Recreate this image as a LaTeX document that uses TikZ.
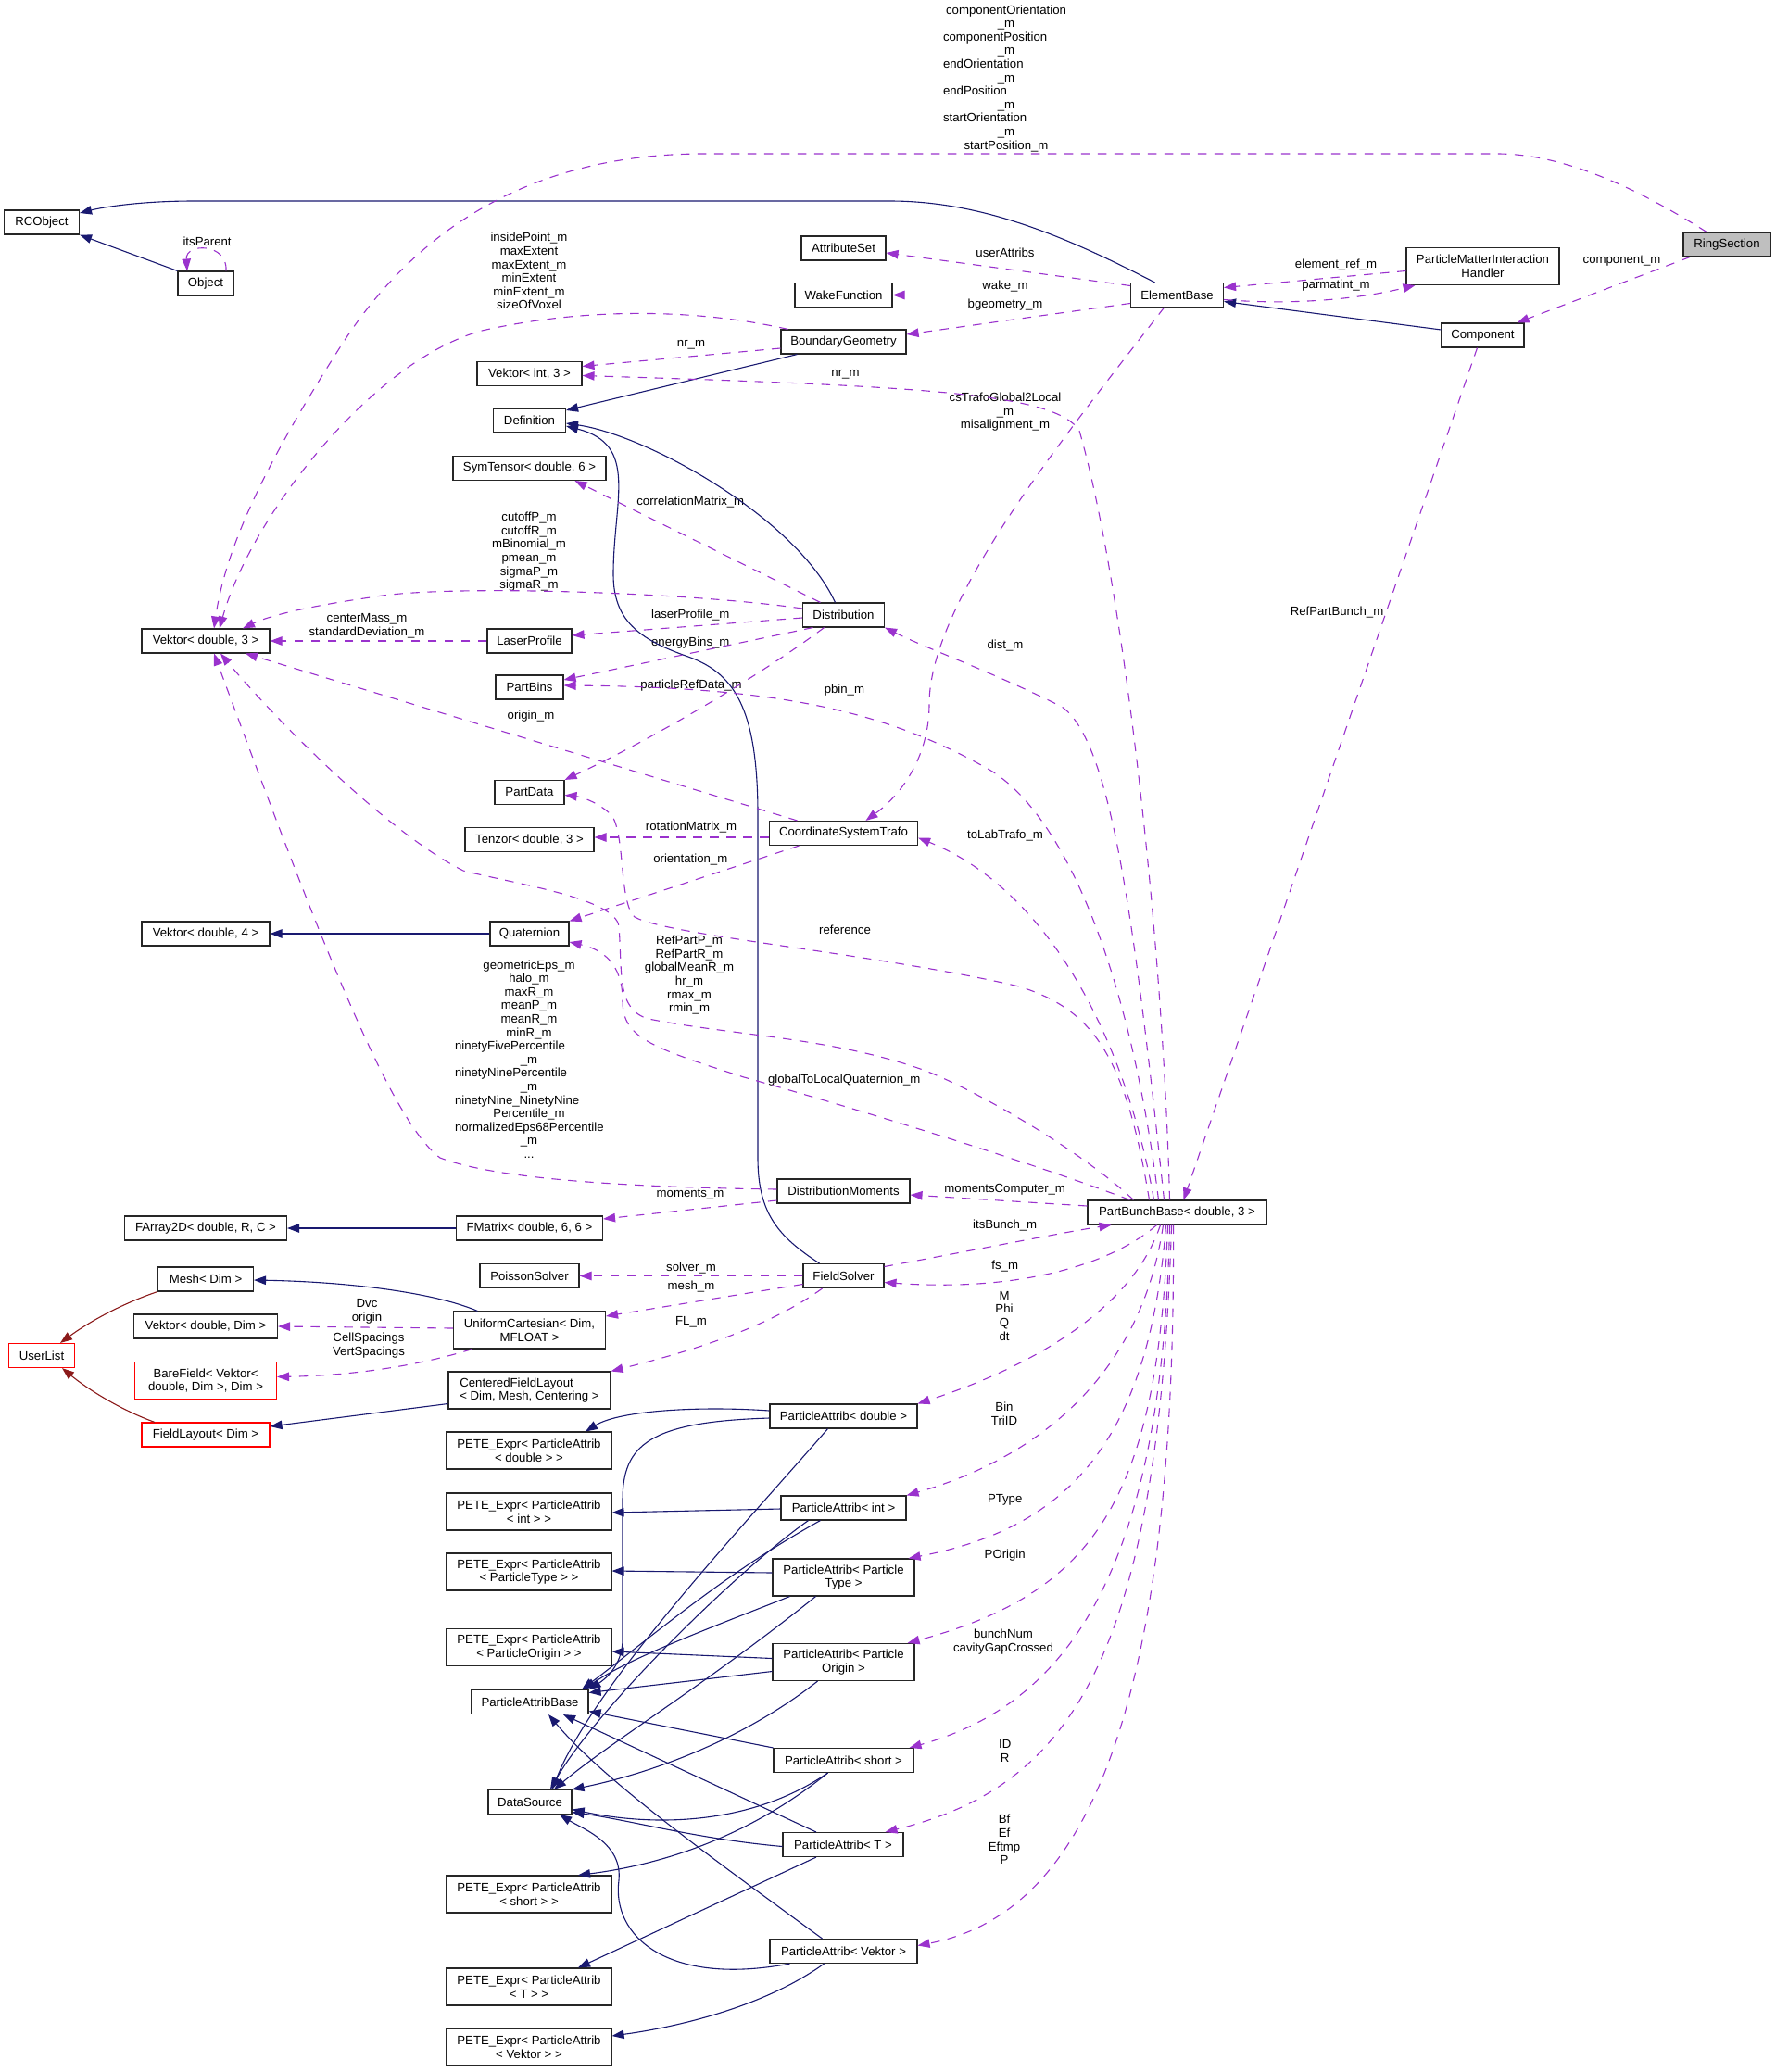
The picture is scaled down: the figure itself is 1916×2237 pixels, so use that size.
\documentclass[tikz,border=0pt]{standalone}
\usepackage{fontspec}
\setmainfont{Liberation Sans}
\usetikzlibrary{arrows.meta}

\definecolor{edgeNavy}{HTML}{191970}
\definecolor{edgeOrchid}{HTML}{9A32CD}
\definecolor{edgeFire}{HTML}{8B1A1A}
\definecolor{ringGray}{HTML}{BFBFBF}

\tikzset{
  classbox/.style={draw=black!85, line width=1.1pt, fill=white, inner sep=0pt, minimum height=26pt, align=center},
  classred/.style={classbox, draw=red},
  edgelabel/.style={inner sep=0pt, align=center},
  inherit/.style={draw=edgeNavy, line width=1.1pt, -{Triangle[length=13pt,width=9.5pt]}},
  tmpl/.style={draw=edgeFire, line width=1.1pt, -{Triangle[length=13pt,width=9.5pt]}},
  member/.style={draw=edgeOrchid, line width=1.1pt, dash pattern=on 9.5pt off 8.5pt, -{Triangle[length=13pt,width=9.5pt]}},
}

\begin{document}
\begin{tikzpicture}[x=1pt, y=-1pt, font=\fontsize{13.2}{14.6}\selectfont]

  \useasboundingbox (0,0) rectangle (1916,2237);

  % columns of the graph (ranks)
  \def\xA{45}
  \def\xB{222}
  \def\xC{571.5}
  \def\xD{910.5}
  \def\xE{1270.5}
  \def\xF{1600.5}
  \def\xG{1864}

  % Classes
  \node[classbox, minimum width=94pt, fill=ringGray] (RingSection) at (\xG,264) {RingSection};
  \node[classbox, minimum width=81pt] (RCObject) at (\xA,240) {RCObject};
  \node[classbox, minimum width=60pt] (Object) at (\xB,306) {Object};
  \node[classbox, minimum width=91pt] (AttributeSet) at (\xD,268) {AttributeSet};
  \node[classbox, minimum width=105pt] (WakeFunction) at (\xD,318.5) {WakeFunction};
  \node[classbox, minimum width=165pt, minimum height=40pt] (PMIHandler) at (\xF,287.5) {ParticleMatterInteraction\\Handler};
  \node[classbox, minimum width=100pt] (ElementBase) at (\xE,318.5) {ElementBase};
  \node[classbox, minimum width=89pt] (Component) at (\xF,362) {Component};
  \node[classbox, minimum width=135pt] (BoundaryGeometry) at (\xD,369) {BoundaryGeometry};
  \node[classbox, minimum width=113pt] (VektorIntThree) at (\xC,403.5) {Vektor< int, 3 >};
  \node[classbox, minimum width=78pt] (Definition) at (\xC,454) {Definition};
  \node[classbox, minimum width=165pt] (SymTensor) at (\xC,505.5) {SymTensor< double, 6 >};
  \node[classbox, minimum width=138pt] (VektorThree) at (\xB,692) {Vektor< double, 3 >};
  \node[classbox, minimum width=91pt] (LaserProfile) at (\xC,692) {LaserProfile};
  \node[classbox, minimum width=88pt] (Distribution) at (\xD,664) {Distribution};
  \node[classbox, minimum width=73pt] (PartBins) at (\xC,742) {PartBins};
  \node[classbox, minimum width=75pt] (PartData) at (\xC,855.5) {PartData};
  \node[classbox, minimum width=139pt] (Tenzor) at (\xC,906.5) {Tenzor< double, 3 >};
  \node[classbox, minimum width=160pt] (CSTrafo) at (\xD,899.5) {CoordinateSystemTrafo};
  \node[classbox, minimum width=138pt] (VektorFour) at (\xB,1008) {Vektor< double, 4 >};
  \node[classbox, minimum width=85pt] (Quaternion) at (\xC,1008) {Quaternion};
  \node[classbox, minimum width=143pt] (DistMoments) at (\xD,1286) {DistributionMoments};
  \node[classbox, minimum width=193pt] (PartBunch) at (\xE,1309) {PartBunchBase< double, 3 >};
  \node[classbox, minimum width=175pt] (FArray) at (\xB,1326) {FArray2D< double, R, C >};
  \node[classbox, minimum width=158pt] (FMatrix) at (\xC,1326) {FMatrix< double, 6, 6 >};
  \node[classbox, minimum width=103pt] (Mesh) at (\xB,1381) {Mesh< Dim >};
  \node[classbox, minimum width=107pt] (PoissonSolver) at (\xC,1377.5) {PoissonSolver};
  \node[classbox, minimum width=87pt] (FieldSolver) at (\xD,1377.5) {FieldSolver};
  \node[classbox, minimum width=155pt] (VektorDim) at (\xB,1432) {Vektor< double, Dim >};
  \node[classbox, minimum width=164pt, minimum height=40pt] (UniCart) at (\xC,1436) {UniformCartesian< Dim,\\MFLOAT >};
  \node[classred, minimum width=71pt] (UserList) at (\xA,1463.5) {UserList};
  \node[classred, minimum width=153pt, minimum height=40pt] (BareField) at (\xB,1490.5) {BareField< Vektor<\\double, Dim >, Dim >};
  \node[classbox, minimum width=175pt, minimum height=40pt, align=left] (CenteredFL) at (\xC,1501) {CenteredFieldLayout\\< Dim, Mesh, Centering >};
  \node[classred, minimum width=138pt] (FieldLayout) at (\xB,1549) {FieldLayout< Dim >};

  % ParticleAttrib family
  \node[classbox, minimum width=159pt] (PADouble) at (\xD,1529) {ParticleAttrib< double >};
  \node[classbox, minimum width=178pt, minimum height=40pt] (PETEDouble) at (571,1566) {PETE\_Expr< ParticleAttrib\\< double > >};
  \node[classbox, minimum width=135pt] (PAInt) at (\xD,1628) {ParticleAttrib< int >};
  \node[classbox, minimum width=178pt, minimum height=40pt] (PETEInt) at (571,1632) {PETE\_Expr< ParticleAttrib\\< int > >};
  \node[classbox, minimum width=153pt, minimum height=40pt] (PAType) at (\xD,1703) {ParticleAttrib< Particle\\Type >};
  \node[classbox, minimum width=178pt, minimum height=40pt] (PETEType) at (571,1697) {PETE\_Expr< ParticleAttrib\\< ParticleType > >};
  \node[classbox, minimum width=178pt, minimum height=40pt] (PETEOrigin) at (571,1778.5) {PETE\_Expr< ParticleAttrib\\< ParticleOrigin > >};
  \node[classbox, minimum width=153pt, minimum height=40pt] (PAOrigin) at (\xD,1794.5) {ParticleAttrib< Particle\\Origin >};
  \node[classbox, minimum width=126pt] (PABase) at (572,1837.5) {ParticleAttribBase};
  \node[classbox, minimum width=151pt] (PAShort) at (\xD,1900.5) {ParticleAttrib< short >};
  \node[classbox, minimum width=90pt] (DataSource) at (572,1945.5) {DataSource};
  \node[classbox, minimum width=130pt] (PAT) at (910,1991.5) {ParticleAttrib< T >};
  \node[classbox, minimum width=178pt, minimum height=40pt] (PETEShort) at (571,2045) {PETE\_Expr< ParticleAttrib\\< short > >};
  \node[classbox, minimum width=159pt] (PAVektor) at (\xD,2106.5) {ParticleAttrib< Vektor >};
  \node[classbox, minimum width=178pt, minimum height=40pt] (PETET) at (571,2145) {PETE\_Expr< ParticleAttrib\\< T > >};
  \node[classbox, minimum width=178pt, minimum height=40pt] (PETEVektor) at (571,2210) {PETE\_Expr< ParticleAttrib\\< Vektor > >};

  % Member labels
  \node[edgelabel] (lblItsParent) at (223.6,260.6) {itsParent};
  \node[edgelabel, text width=136pt] (lblRing) at (1086,84.6)
    {componentOrientation\\\_m\\componentPosition\hfill\null\\\_m\\endOrientation\hfill\null\\\_m\\endPosition\hfill\null\\\_m\\startOrientation\hfill\null\\\_m\\startPosition\_m};
  \node[edgelabel] (lblInside) at (571,292.6) {insidePoint\_m\\maxExtent\\maxExtent\_m\\minExtent\\minExtent\_m\\sizeOfVoxel};
  \node[edgelabel] (lblUserAttribs) at (1085,272.4) {userAttribs};
  \node[edgelabel] (lblWake) at (1085,309.5) {wake\_m};
  \node[edgelabel] (lblBgeom) at (1085,329) {bgeometry\_m};
  \node[edgelabel] (lblElemRef) at (1442,285.6) {element\_ref\_m};
  \node[edgelabel] (lblParmatint) at (1442,308) {parmatint\_m};
  \node[edgelabel] (lblCompM) at (1750.5,282) {component\_m};
  \node[edgelabel] (lblNrA) at (746,372.4) {nr\_m};
  \node[edgelabel] (lblNrB) at (912.5,404.5) {nr\_m};
  \node[edgelabel] (lblCsTrafo) at (1085,444.6) {csTrafoGlobal2Local\\\_m\\misalignment\_m};
  \node[edgelabel] (lblCorr) at (745.3,541.6) {correlationMatrix\_m};
  \node[edgelabel] (lblCutoff) at (571,595.7) {cutoffP\_m\\cutoffR\_m\\mBinomial\_m\\pmean\_m\\sigmaP\_m\\sigmaR\_m};
  \node[edgelabel] (lblLaser) at (745.3,664.2) {laserProfile\_m};
  \node[edgelabel] (lblCenter) at (396,675.5) {centerMass\_m\\standardDeviation\_m};
  \node[edgelabel] (lblRefBunch) at (1443,661) {RefPartBunch\_m};
  \node[edgelabel] (lblEnergy) at (745.3,694) {energyBins\_m};
  \node[edgelabel] (lblDist) at (1085,696.7) {dist\_m};
  \node[edgelabel] (lblPartRef) at (746,739.6) {particleRefData\_m};
  \node[edgelabel] (lblPbin) at (911.4,744.6) {pbin\_m};
  \node[edgelabel] (lblOrigin) at (573,773.5) {origin\_m};
  \node[edgelabel] (lblRotation) at (746,893) {rotationMatrix\_m};
  \node[edgelabel] (lblToLab) at (1085,901.7) {toLabTrafo\_m};
  \node[edgelabel] (lblOrient) at (745.3,927.7) {orientation\_m};
  \node[edgelabel] (lblReference) at (912,1003.4) {reference};
  \node[edgelabel] (lblRefPartP) at (744,1052.8) {RefPartP\_m\\RefPartR\_m\\globalMeanR\_m\\hr\_m\\rmax\_m\\rmin\_m};
  \node[edgelabel, text width=160pt] (lblGeom) at (571,1143.5)
    {geometricEps\_m\\halo\_m\\maxR\_m\\meanP\_m\\meanR\_m\\minR\_m\\ninetyFivePercentile\hfill\null\\\_m\\ninetyNinePercentile\hfill\null\\\_m\\ninetyNine\_NinetyNine\hfill\null\\Percentile\_m\\normalizedEps68Percentile\\\_m\\...};
  \node[edgelabel] (lblGlobal) at (911.3,1165.7) {globalToLocalQuaternion\_m};
  \node[edgelabel] (lblMoments) at (745,1289.6) {moments\_m};
  \node[edgelabel] (lblMomComp) at (1084.7,1284.6) {momentsComputer\_m};
  \node[edgelabel] (lblItsBunch) at (1084.7,1323.5) {itsBunch\_m};
  \node[edgelabel] (lblSolver) at (746,1369) {solver\_m};
  \node[edgelabel] (lblFs) at (1084.7,1367.4) {fs\_m};
  \node[edgelabel] (lblMesh) at (746,1388.6) {mesh\_m};
  \node[edgelabel] (lblDvc) at (396,1416) {Dvc\\origin};
  \node[edgelabel] (lblMPhi) at (1084,1420.8) {M\\Phi\\Q\\dt};
  \node[edgelabel] (lblFL) at (746,1427) {FL\_m};
  \node[edgelabel] (lblCell) at (398,1452.8) {CellSpacings\\VertSpacings};
  \node[edgelabel] (lblBin) at (1084,1526) {Bin\\TriID};
  \node[edgelabel] (lblPType) at (1084.7,1619) {PType};
  \node[edgelabel] (lblPOrigin) at (1084.7,1679) {POrigin};
  \node[edgelabel] (lblBunchNum) at (1083,1772.8) {bunchNum\\cavityGapCrossed};
  \node[edgelabel] (lblID) at (1084.7,1890.3) {ID\\R};
  \node[edgelabel] (lblBf) at (1084,1986) {Bf\\Ef\\Eftmp\\P};

  % Inheritance (solid)
  \draw[inherit] (Object.north west) -- (RCObject.south east);
  \draw[inherit] ([xshift=-24pt]ElementBase.north) .. controls (1150,255) and (1060,217) .. (960,217) -- (210,217) .. controls (150,217) and (110,224) .. ([yshift=10pt]RCObject.east);
  \draw[inherit] ([yshift=6pt]Component.west) -- ([yshift=-7pt]ElementBase.east);
  \draw[inherit] ([xshift=-50pt]BoundaryGeometry.south) -- ([yshift=11pt]Definition.east);
  \draw[inherit] ([xshift=-9pt]Distribution.north) .. controls (860,560) and (700,470) .. ([yshift=-3pt]Definition.east);
  \draw[inherit] ([xshift=-26pt]FieldSolver.north) .. controls (840,1335) and (818,1310) .. (818,1250) -- (818,880) .. controls (818,760) and (790,725) .. (740,708) .. controls (690,690) and (662,670) .. (662,620) .. controls (662,540) and (690,480) .. ([yshift=-6pt]Definition.east);
  \draw[inherit] (Quaternion.west) -- (VektorFour.east);
  \draw[inherit] (FMatrix.west) -- (FArray.east);
  \draw[inherit] ([xshift=-56pt]UniCart.north) .. controls (470,1396) and (380,1384) .. ([yshift=-1pt]Mesh.east);
  \draw[inherit] ([yshift=-14.5pt]CenteredFL.west) -- ([yshift=9pt]FieldLayout.east);
  \draw[tmpl] (Mesh.south west) .. controls (130,1408) and (95,1428) .. ([xshift=20pt]UserList.north);
  \draw[tmpl] ([xshift=-55pt]FieldLayout.north) .. controls (130,1522) and (95,1500) .. ([xshift=22pt]UserList.south);

  % ParticleAttrib < X > -> PETE_Expr, ParticleAttribBase, DataSource
  \draw[inherit] ([yshift=6pt]PADouble.west) .. controls (760,1518) and (670,1522) .. ([xshift=61pt]PETEDouble.north);
  \draw[inherit] ([yshift=-2pt]PADouble.west) .. controls (700,1535) and (672,1560) .. (672,1620) -- (672,1770) .. controls (672,1800) and (650,1815) .. (PABase.north east);
  \draw[inherit] ([xshift=-17pt]PADouble.south) .. controls (800,1650) and (640,1820) .. ([xshift=24pt]DataSource.north);
  \draw[inherit] ([yshift=-1pt]PAInt.west) -- ([yshift=-1pt]PETEInt.east);
  \draw[inherit] ([xshift=-25pt]PAInt.south) .. controls (780,1700) and (700,1770) .. ([xshift=56pt]PABase.north);
  \draw[inherit] ([xshift=-38pt]PAInt.south) .. controls (790,1700) and (640,1850) .. ([xshift=22pt]DataSource.north);
  \draw[inherit] ([yshift=5pt]PAType.west) -- ([yshift=1pt]PETEType.east);
  \draw[inherit] ([xshift=-58pt]PAType.south) .. controls (760,1760) and (680,1790) .. ([xshift=58pt]PABase.north);
  \draw[inherit] ([xshift=-30pt]PAType.south) .. controls (760,1820) and (660,1880) .. ([xshift=26pt]DataSource.north);
  \draw[inherit] ([yshift=4pt]PAOrigin.west) -- ([yshift=-4.5pt]PETEOrigin.east);
  \draw[inherit] ([yshift=-10pt]PAOrigin.west) -- ([yshift=10pt]PABase.east);
  \draw[inherit] ([xshift=-28pt]PAOrigin.south) .. controls (800,1880) and (700,1915) .. (DataSource.north east);
  \draw[inherit] (PAShort.north west) -- ([yshift=-10pt]PABase.east);
  \draw[inherit] ([xshift=-17pt]PAShort.south) .. controls (820,1965) and (720,1975) .. ([yshift=-8pt]DataSource.east);
  \draw[inherit] ([xshift=-17pt]PAShort.south) .. controls (800,1990) and (700,2015) .. ([xshift=53pt]PETEShort.north);
  \draw[inherit] ([yshift=-2pt]PAT.west) .. controls (750,1985) and (680,1965) .. ([yshift=-11pt]DataSource.east);
  \draw[inherit] ([xshift=-29pt]PAT.north) -- ([xshift=36pt]PABase.south);
  \draw[inherit] ([xshift=-29pt]PAT.south) -- ([xshift=53pt]PETET.north);
  \draw[inherit] ([xshift=-23pt]PAVektor.north) .. controls (760,2000) and (650,1920) .. ([xshift=20pt]PABase.south);
  \draw[inherit] ([xshift=-58pt]PAVektor.south) .. controls (720,2145) and (660,2090) .. (668,2030) .. controls (672,1990) and (630,1975) .. ([xshift=32pt]DataSource.south);
  \draw[inherit] ([xshift=-21pt]PAVektor.south) .. controls (820,2170) and (720,2190) .. ([yshift=12pt]PETEVektor.east);

  % Usage (dashed)
  \draw[member] ([xshift=22pt]Object.north) .. controls (246,262) and (200,262) .. ([xshift=-20pt]Object.north);
  \draw[member] ([xshift=-22pt]RingSection.north) .. controls (1770,205) and (1690,166) .. (1616,166) -- (760,166) .. controls (560,166) and (440,260) .. (367,375) .. controls (300,480) and (245,580) .. ([xshift=9pt]VektorThree.north);
  \draw[member] ([xshift=-60pt]BoundaryGeometry.north) .. controls (760,335) and (640,330) .. (520,357) .. controls (400,390) and (270,560) .. ([xshift=15pt]VektorThree.north);
  \draw[member] ([yshift=7pt]Distribution.west) .. controls (750,640) and (480,630) .. (400,645) .. controls (330,655) and (290,665) .. ([xshift=40pt]VektorThree.north);
  \draw[member] (LaserProfile.west) -- (VektorThree.east);
  \draw[member] ([yshift=-3pt]Distribution.west) -- ([yshift=6pt]LaserProfile.east);
  \draw[member] ([xshift=-33pt]Distribution.south) -- ([yshift=8pt]PartBins.east);
  \draw[member] ([xshift=-21pt]Distribution.south) .. controls (820,730) and (700,800) .. (PartData.north east);
  \draw[member] ([xshift=-25pt]Distribution.north) -- ([xshift=49pt]SymTensor.south);
  \draw[member] ([yshift=10pt]ElementBase.west) -- ([yshift=-5pt]AttributeSet.east);
  \draw[member] (ElementBase.west) -- (WakeFunction.east);
  \draw[member] ([yshift=-9pt]ElementBase.west) -- ([yshift=8pt]BoundaryGeometry.east);
  \draw[member] ([yshift=-7pt]BoundaryGeometry.west) -- ([yshift=8pt]VektorIntThree.east);
  \draw[member] ([xshift=-8pt]PartBunch.north) .. controls (1255,1000) and (1210,620) .. (1165,465) .. controls (1140,425) and (1000,417) .. ([yshift=-2pt]VektorIntThree.east);
  \draw[member] ([xshift=-14pt]ElementBase.south) .. controls (1150,470) and (1003,650) .. (1003,760) .. controls (1003,820) and (970,860) .. ([xshift=24pt]CSTrafo.north);
  \draw[member] ([yshift=-5pt]ElementBase.east) .. controls (1400,330) and (1470,322) .. ([xshift=-73pt]PMIHandler.south);
  \draw[member] ([yshift=-5pt]PMIHandler.west) -- ([yshift=8pt]ElementBase.east);
  \draw[member] ([xshift=-40pt]RingSection.south) -- ([xshift=37pt]Component.north);
  \draw[member] ([xshift=-6pt]Component.south) -- ([xshift=7pt]PartBunch.north);
  \draw[member] ([xshift=-50pt]CSTrafo.north) -- ([xshift=43pt]VektorThree.south);
  \draw[member] ([yshift=-4.5pt]CSTrafo.west) -- ([yshift=2.5pt]Tenzor.east);
  \draw[member] ([xshift=-48pt]CSTrafo.south) -- (Quaternion.north east);
  \draw[member] ([xshift=-25pt]PartBunch.north) .. controls (1215,1120) and (1130,960) .. ([yshift=-5pt]CSTrafo.east);
  \draw[member] ([xshift=-14pt]PartBunch.north) .. controls (1225,1000) and (1200,800) .. (1146,763) .. controls (1070,725) and (1000,700) .. (Distribution.south east);
  \draw[member] ([xshift=-20pt]PartBunch.north) .. controls (1220,1050) and (1150,880) .. (1068,831) .. controls (960,770) and (850,742) .. ([yshift=2pt]PartBins.east);
  \draw[member] ([xshift=-30pt]PartBunch.north) .. controls (1215,1140) and (1180,1090) .. (1100,1065) .. controls (950,1030) and (720,1010) .. (685,990) .. controls (668,975) and (675,900) .. (660,880) .. controls (645,865) and (625,860) .. ([yshift=-3pt]PartData.east);
  \draw[member] ([xshift=-47pt]PartBunch.north) .. controls (1170,1245) and (1060,1180) .. (999,1156) .. controls (900,1120) and (790,1118) .. (700,1100) .. controls (665,1090) and (672,1050) .. (668,1000) .. controls (664,970) and (560,955) .. (500,940) .. controls (420,900) and (300,780) .. ([xshift=16pt]VektorThree.south);
  \draw[member] ([yshift=2pt]DistMoments.west) .. controls (700,1282) and (540,1275) .. (475,1250) .. controls (420,1210) and (340,1000) .. ([xshift=9pt]VektorThree.south);
  \draw[member] ([xshift=-51pt]PartBunch.north) .. controls (1100,1250) and (900,1190) .. (803,1163) .. controls (700,1130) and (672,1120) .. (672,1080) .. controls (672,1040) and (650,1025) .. ([yshift=-9pt]Quaternion.east);
  \draw[member] ([yshift=-10pt]DistMoments.west) -- ([yshift=10pt]FMatrix.east);
  \draw[member] ([yshift=7pt]PartBunch.west) -- ([yshift=-4pt]DistMoments.east);
  \draw[member] ([yshift=10pt]FieldSolver.east) .. controls (1050,1350) and (1150,1330) .. ([xshift=-71pt]PartBunch.south);
  \draw[member] ([xshift=-22pt]PartBunch.south) .. controls (1200,1365) and (1100,1395) .. ([yshift=-7pt]FieldSolver.east);
  \draw[member] (FieldSolver.west) -- (PoissonSolver.east);
  \draw[member] ([yshift=-9pt]FieldSolver.west) -- ([yshift=15pt]UniCart.east);
  \draw[member] ([xshift=-23pt]FieldSolver.south) .. controls (820,1440) and (720,1465) .. (CenteredFL.north east);
  \draw[member] ([yshift=2pt]UniCart.west) -- (VektorDim.east);
  \draw[member] ([xshift=-62pt]UniCart.south) .. controls (450,1475) and (380,1485) .. ([yshift=4pt]BareField.east);

  % PartBunchBase -> particle attributes
  \draw[member] ([xshift=-18pt]PartBunch.south) .. controls (1220,1420) and (1100,1480) .. (PADouble.north east);
  \draw[member] ([xshift=-15pt]PartBunch.south) .. controls (1230,1500) and (1100,1580) .. (PAInt.north east);
  \draw[member] ([xshift=-12pt]PartBunch.south) .. controls (1240,1560) and (1150,1650) .. ([xshift=-7pt]PAType.north east);
  \draw[member] ([xshift=-10pt]PartBunch.south) .. controls (1250,1620) and (1180,1720) .. ([xshift=-8pt]PAOrigin.north east);
  \draw[member] ([xshift=-8pt]PartBunch.south) .. controls (1255,1700) and (1150,1840) .. ([xshift=-5pt]PAShort.north east);
  \draw[member] ([xshift=-6pt]PartBunch.south) .. controls (1250,1800) and (1150,1930) .. ([xshift=-20pt]PAT.north east);
  \draw[member] ([xshift=-4pt]PartBunch.south) .. controls (1270,1900) and (1150,2070) .. ([yshift=6pt]PAVektor.east);

\end{tikzpicture}
\end{document}
